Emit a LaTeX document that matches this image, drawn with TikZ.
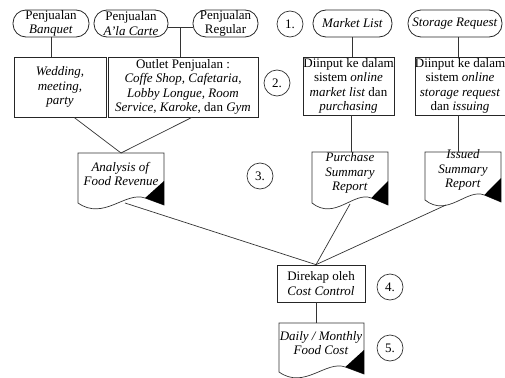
\documentclass[tikz,border=0pt]{standalone}
\usepackage{fontspec}
\setmainfont{Liberation Serif}
\usetikzlibrary{calc}
\tikzset{
  ln/.style={line width=0.7pt, draw=black!80},
  pill/.style={draw=black!85, line width=0.8pt, rounded corners=13pt, minimum height=27pt, inner sep=0pt, align=center},
  rbox/.style={draw=black!85, line width=0.7pt, inner sep=0pt, align=center},
  circ/.style={draw=black!80, line width=0.7pt, circle, minimum size=26pt, inner sep=0pt},
  doctext/.style={align=center, inner sep=0pt},
}
% #1 = left x, #2 = top y, #3 = right x, #4 = left-bottom y
\newcommand{\docshape}[4]{%
  \pgfmathsetmacro\dw{#3-#1}%
  \draw[ln] (#1,#2) -- (#3,#2) -- (#3,{#4+2}) -- ({#3-0.22*\dw},{#4-5})
     .. controls ({#1+0.55*\dw},{#4-12}) and ({#1+0.3*\dw},{#4+18}) .. (#1,#4) -- cycle;
  \fill[black] (#3,{#4-22}) -- (#3,{#4+2}) -- ({#3-0.22*\dw},{#4-5}) -- cycle;
}
\begin{document}
\begin{tikzpicture}[x=1pt,y=-1pt, font=\fontsize{13}{14.5}\selectfont]
\useasboundingbox (0,0) rectangle (505,377);
\fill[white] (0,0) rectangle (505,377);

% top row
\node[pill, minimum width=76pt] (banq) at (51,23.5) {Penjualan\\\textit{Banquet}};
\node[pill, minimum width=74pt] (alc) at (131,23.5) {Penjualan\\\textit{A’la Carte}};
\node[pill, minimum width=65pt] (reg) at (225.5,23.5) {Penjualan\\Regular};
\node[pill, minimum width=79pt] (ml) at (352.5,23.5) {\textit{Market List}};
\node[pill, minimum width=94pt] (sr) at (455,23.5) {\textit{Storage Request}};

% second row
\node[rbox, minimum width=92pt, minimum height=60pt] (wed) at (60,87) {\textit{Wedding,}\\\textit{meeting,}\\\textit{party}};
\node[rbox, minimum width=150pt, minimum height=60pt] (out) at (183,87) {Outlet Penjualan :\\\textit{Coffe Shop, Cafetaria,}\\\textit{Lobby Longue, Room}\\\textit{Service, Karoke}, dan \textit{Gym}};
\node[rbox, minimum width=91pt, minimum height=58pt] (mbox) at (348.5,86) {Diinput ke dalam\\sistem \textit{online}\\\textit{market list} dan\\\textit{purchasing}};
\node[rbox, minimum width=86pt, minimum height=58pt] (sbox) at (460,86) {Diinput ke dalam\\sistem \textit{online}\\\textit{storage request}\\dan \textit{issuing}};

% documents
\node[doctext] (ana) at (121,174) {\textit{Analysis of}\\\textit{Food Revenue}};
\docshape{78}{153}{164}{203}
\node[doctext] (pur) at (350,173) {\textit{Purchase}\\\textit{Summary}\\\textit{Report}};
\docshape{312}{152}{388}{203}
\node[doctext] (iss) at (463,170) {\textit{Issued}\\\textit{Summary}\\\textit{Report}};
\docshape{425}{152}{501}{200}
\node[doctext] (daily) at (321,343) {\textit{Daily / Monthly}\\\textit{Food Cost}};
\docshape{279}{323}{364}{372}

\node[rbox, minimum width=88pt, minimum height=37pt] (dir) at (321,283.5) {Direkap oleh\\\textit{Cost Control}};

% circles
\node[circ] (c1) at (290,24) {1.};
\node[circ] (c2) at (277,83) {2.};
\node[circ] (c3) at (260,176) {3.};
\node[circ] (c4) at (390,287) {4.};
\node[circ] (c5) at (390,348) {5.};

% anchor points on document outlines
\coordinate (anaT) at (121,153);
\coordinate (anaB) at (125,203);
\coordinate (purT) at (351,152);
\coordinate (purB) at (350,204);
\coordinate (issT) at (458,152);
\coordinate (issB) at (446,205);
\coordinate (dailyT) at (316,323);
\coordinate (dirT) at ([xshift=-5pt]dir.north);
\coordinate (jn) at ($([yshift=-4pt]alc.east)!0.5!([yshift=-4pt]reg.west)$);

% connectors
\draw[ln] (banq.south) -- (banq.south |- wed.north);
\draw[ln] ([yshift=-4pt]alc.east) -- ([yshift=-4pt]reg.west);
\draw[ln] (jn) -- (jn |- out.north);
\draw[ln] ([xshift=14pt]wed.south) -- (anaT);
\draw[ln] ([xshift=9pt]out.south) -- (anaT);
\draw[ln] (ml.south) -- (ml.south |- mbox.north);
\draw[ln] (mbox.south -| purT) -- (purT);
\draw[ln] ([xshift=3pt]sr.south) -- ([xshift=3pt]sr.south |- sbox.north);
\draw[ln] (sbox.south -| issT) -- (issT);
\draw[ln] (anaB) -- (dirT);
\draw[ln] (purB) -- (dirT);
\draw[ln] (issB) -- (dirT);
\draw[ln] ([xshift=-5pt]dir.south) -- (dailyT);
\end{tikzpicture}
\end{document}
